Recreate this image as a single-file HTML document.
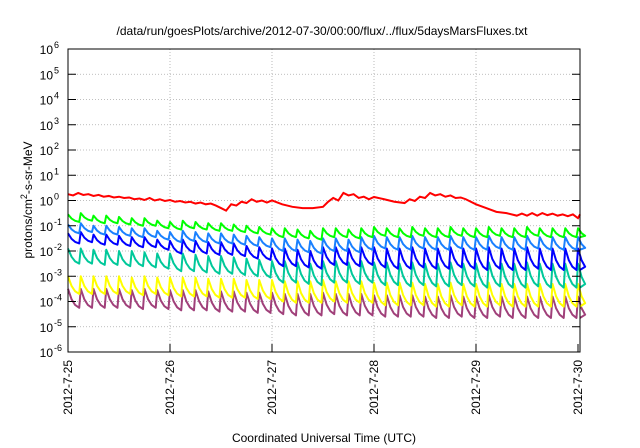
<!DOCTYPE html>
<html><head><meta charset="utf-8"><style>
html,body{margin:0;padding:0;background:#fff;}
svg{display:block;font-family:"Liberation Sans",sans-serif;}
</style></head><body>
<svg id="c" width="640" height="448" xmlns="http://www.w3.org/2000/svg">
<text x="322" y="35" font-size="12" text-anchor="middle">/data/run/goesPlots/archive/2012-07-30/00:00/flux/../flux/5daysMarsFluxes.txt</text>
<text x="324" y="442" font-size="12" text-anchor="middle">Coordinated Universal Time (UTC)</text>
<text transform="translate(32,200) rotate(-90)" font-size="12" text-anchor="middle">protons/cm<tspan dy="-5" font-size="9">2</tspan><tspan dy="5">-s-sr-MeV</tspan></text>
<g id="grid"></g><g id="series"></g><g id="axes"></g>
</svg>
<script>
const xTickLabels=["2012-7-25","2012-7-26","2012-7-27","2012-7-28","2012-7-29","2012-7-30"];
const xTickDays=[25,26,27,28,29,30];
const yTickExps=[-6,-5,-4,-3,-2,-1,0,1,2,3,4,5,6];
const toothStart=25.0, toothPeriod=0.125;
const greenPeaks=[-0.55,-0.5,-0.6,-0.6,-0.65,-0.7,-0.7,-0.8,-0.85,-0.8,-0.85,-0.9,-0.9,-0.95,-1.0,-1.05,-1.1,-1.1,-1.15,-1.2,-1.1,-1.1,-1.15,-1.1,-1.05,-1.1,-1.1,-1.05,-1.1,-1.1,-1.05,-1.1,-1.1,-1.05,-1.1,-1.1,-1.05,-1.1,-1.1,-1.1,-1.1];
const lightBluePeaks=[-0.95,-0.9,-1.0,-1.0,-1.05,-1.1,-1.1,-1.2,-1.25,-1.2,-1.25,-1.3,-1.3,-1.35,-1.4,-1.45,-1.5,-1.5,-1.55,-1.6,-1.5,-1.5,-1.55,-1.45,-1.4,-1.45,-1.45,-1.4,-1.45,-1.45,-1.4,-1.45,-1.45,-1.4,-1.45,-1.45,-1.4,-1.45,-1.45,-1.45,-1.45];
const bluePeaks=[-1.3,-1.25,-1.35,-1.35,-1.4,-1.45,-1.45,-1.55,-1.6,-1.55,-1.6,-1.65,-1.65,-1.7,-1.8,-1.85,-1.9,-1.9,-1.95,-2.0,-1.85,-1.85,-1.9,-1.85,-1.85,-1.9,-1.9,-1.85,-1.9,-1.9,-1.85,-1.9,-1.9,-1.85,-1.9,-1.9,-1.85,-1.9,-1.9,-1.9,-1.9];
const tealPeaks=[-1.9,-1.9,-1.95,-1.95,-2.0,-2.0,-2.05,-2.1,-2.1,-2.1,-2.15,-2.2,-2.2,-2.25,-2.3,-2.35,-2.4,-2.4,-2.45,-2.5,-2.4,-2.4,-2.45,-2.4,-2.45,-2.45,-2.5,-2.45,-2.5,-2.5,-2.45,-2.5,-2.5,-2.45,-2.5,-2.5,-2.45,-2.5,-2.5,-2.5,-2.5];
const yellowPeaks=[-3.0,-3.0,-3.0,-3.0,-3.0,-3.05,-3.0,-3.05,-3.05,-3.05,-3.05,-3.1,-3.1,-3.1,-3.15,-3.15,-3.15,-3.2,-3.2,-3.2,-3.15,-3.2,-3.2,-3.2,-3.25,-3.25,-3.25,-3.25,-3.3,-3.3,-3.25,-3.3,-3.3,-3.25,-3.3,-3.3,-3.3,-3.3,-3.3,-3.3,-3.3];
const purplePeaks=[-3.5,-3.5,-3.5,-3.5,-3.5,-3.55,-3.5,-3.55,-3.55,-3.55,-3.55,-3.6,-3.6,-3.6,-3.65,-3.65,-3.65,-3.7,-3.7,-3.7,-3.65,-3.7,-3.7,-3.7,-3.75,-3.75,-3.75,-3.75,-3.8,-3.8,-3.75,-3.8,-3.8,-3.75,-3.8,-3.8,-3.8,-3.8,-3.8,-3.8,-3.8];
const greenDepthByDay=[0.3,0.3,0.35,0.35,0.35];
const lightBlueDepthByDay=[0.35,0.4,0.5,0.5,0.5];
const blueDepthByDay=[0.4,0.5,0.7,0.8,0.85];
const tealDepthByDay=[0.6,0.7,0.85,0.9,0.95];
const yellowDepthByDay=[0.7,0.75,0.85,0.9,0.9];
const purpleDepthByDay=[0.75,0.8,0.85,0.85,0.85];
const redTimes=[25.0,25.05,25.1,25.15,25.2,25.25,25.3,25.35,25.4,25.45,25.5,25.55,25.6,25.65,25.7,25.75,25.8,25.85,25.9,25.95,26.0,26.05,26.1,26.15,26.2,26.25,26.3,26.35,26.4,26.45,26.5,26.55,26.6,26.65,26.7,26.75,26.8,26.85,26.9,26.95,27.0,27.1,27.2,27.3,27.4,27.5,27.55,27.6,27.65,27.7,27.75,27.8,27.85,27.9,27.95,28.0,28.1,28.2,28.3,28.35,28.4,28.45,28.5,28.55,28.6,28.65,28.7,28.75,28.8,28.85,28.9,29.0,29.1,29.2,29.3,29.4,29.45,29.5,29.55,29.6,29.65,29.7,29.75,29.8,29.85,29.9,29.95,30.0,30.02];
const redValues=[0.25,0.2,0.3,0.22,0.25,0.18,0.22,0.15,0.18,0.12,0.15,0.1,0.12,0.05,0.08,0.02,0.1,0.0,0.05,-0.02,0.02,-0.05,-0.02,-0.08,-0.05,-0.12,-0.08,-0.15,-0.12,-0.2,-0.3,-0.4,-0.15,-0.2,-0.05,-0.1,0.05,-0.05,0.0,-0.08,0.0,-0.15,-0.25,-0.3,-0.3,-0.25,-0.05,0.1,0.0,0.3,0.2,0.25,0.1,0.15,0.05,0.14,0.05,-0.05,-0.1,0.05,-0.02,0.15,0.1,0.3,0.2,0.25,0.15,0.2,0.1,0.12,0.05,-0.15,-0.3,-0.45,-0.5,-0.6,-0.52,-0.6,-0.5,-0.6,-0.5,-0.58,-0.52,-0.6,-0.55,-0.62,-0.55,-0.7,-0.55];
const L=68,R=580,T=49,B=352,D0=25,DX=102;
const xs=d=>L+(d-D0)*DX;
const ys=e=>T+(6-e)*(B-T)/12;
const NS="http://www.w3.org/2000/svg";
function mk(tag,attrs,parent){const el=document.createElementNS(NS,tag);for(const k in attrs)el.setAttribute(k,attrs[k]);parent.appendChild(el);return el;}
const grid=document.getElementById('grid'),axes=document.getElementById('axes'),ser=document.getElementById('series');
yTickExps.forEach(e=>{
  const y=ys(e);
  if(e>-6&&e<6){const g=mk('line',{x1:L,x2:R,y1:y,y2:y,stroke:'#aaa','stroke-width':0.8,'stroke-dasharray':'1,2'},grid);
  }
  const t1=mk('line',{x1:L,x2:L+8,y1:y,y2:y,stroke:'#000'},axes);
  
  const t2=mk('line',{x1:R-8,x2:R,y1:y,y2:y,stroke:'#000'},axes);
  
  const tx=mk('text',{x:53,y:y+5,'font-size':12,'text-anchor':'end'},axes);
  
  tx.textContent='10';
  const sp=mk('text',{x:54,y:y-1,'font-size':9,'text-anchor':'start'},axes);
  
  sp.textContent=String(e);
});
xTickDays.forEach((d,i)=>{
  const x=xs(d);
  if(i>0&&i<xTickDays.length-1){const g=mk('line',{x1:x,x2:x,y1:T,y2:B,stroke:'#aaa','stroke-width':0.8,'stroke-dasharray':'1,2'},grid);
  }
  const t1=mk('line',{x1:x,x2:x,y1:B,y2:B-8,stroke:'#000'},axes);
  
  const tx=mk('text',{transform:`translate(${x+4},${B+8}) rotate(-90)`,'font-size':12,'text-anchor':'end'},axes);
  
  tx.textContent=xTickLabels[i];
});
const frame=mk('rect',{x:L,y:T,width:R-L,height:B-T,fill:'none',stroke:'#000','stroke-width':1},axes);

function saw(peaks,depths,color,name){
  let pts=[];
  for(let i=0;i<peaks.length;i++){
    const t=toothStart+i*toothPeriod;const dep=depths[Math.min(depths.length-1,Math.floor(t-D0))];
    const tEnd=Math.min(t+toothPeriod-0.015,30.02);
    if(t>30.02)break;
    pts.push([xs(t),ys(peaks[i])]);
    pts.push([xs(t+0.035),ys(peaks[i]-dep*0.55)]);
    pts.push([xs(t+0.07),ys(peaks[i]-dep*0.85)]);
    pts.push([xs(tEnd),ys(peaks[i]-dep)]);
  }
  const p=mk('polyline',{points:pts.map(q=>q.join(',')).join(' '),fill:'none',stroke:color,'stroke-width':2,'stroke-linejoin':'round'},ser);
  
}
saw(purplePeaks,purpleDepthByDay,'#a0407a','series-purple');
saw(yellowPeaks,yellowDepthByDay,'#ffff00','series-yellow');
saw(tealPeaks,tealDepthByDay,'#00c89a','series-teal');
saw(bluePeaks,blueDepthByDay,'#0000ff','series-blue');
saw(lightBluePeaks,lightBlueDepthByDay,'#1a80ff','series-light-blue');
saw(greenPeaks,greenDepthByDay,'#00ff00','series-green');
const rp=mk('polyline',{points:redTimes.map((t,i)=>xs(t)+','+ys(redValues[i])).join(' '),fill:'none',stroke:'#ff0000','stroke-width':2},ser);

</script>
</body></html>
